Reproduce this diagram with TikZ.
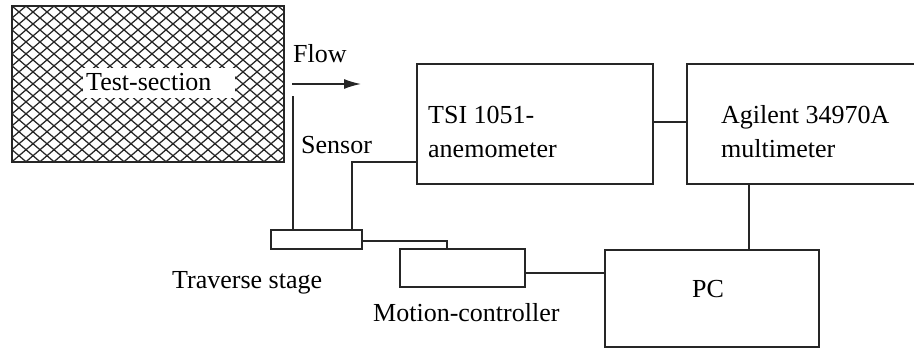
\documentclass[tikz,border=0pt]{standalone}
\usepackage{fontspec}
\setmainfont{Liberation Serif}
\usetikzlibrary{arrows.meta}
\newcommand{\fsz}{\fontsize{26}{30}\selectfont}
\begin{document}
\begin{tikzpicture}[x=1pt,y=-1pt,
  boxstyle/.style={draw=black!85,line width=1.8pt,rectangle,inner sep=0pt},
  wire/.style={draw=black!85,line width=1.4pt},
  txt/.style={anchor=base west,inner sep=0pt,font=\fsz},
  hatchline/.style={draw=black!85,line width=1.25pt}]
\useasboundingbox (0,0) rectangle (914,348);
\clip (0,0) rectangle (914,348);
% test-section
\begin{scope}
  \clip (12,6) rectangle (284,162);
  \foreach \k in {-14,...,34} {
    \draw[hatchline] (12+14*\k,6) -- ++(187,160);
    \draw[hatchline] (12+14*\k,6) -- ++(-187,160);
  }
\end{scope}
\node[boxstyle,minimum width=272pt,minimum height=156pt] (test) at (148,84) {};
\node[fill=white,inner sep=0pt,minimum width=152pt,minimum height=30pt] (testbg) at (159,83) {};
\node[txt] (testlbl) at (86,90) {Test-section};
% flow
\node[txt] (flowlbl) at (293,62) {Flow};
\coordinate (flowA) at (292,84);
\coordinate (flowB) at (361,84);
\draw[wire,-{Latex[length=17pt,width=10pt]}] (flowA) -- (flowB);
% boxes
\node[boxstyle,minimum width=236pt,minimum height=120pt] (anem) at (535,124) {};
\node[boxstyle,minimum width=260pt,minimum height=120pt] (multi) at (817,124) {};
\node[boxstyle,minimum width=214pt,minimum height=97pt] (pc) at (712,298.5) {};
\node[boxstyle,minimum width=91pt,minimum height=19pt] (stage) at (316.5,239.5) {};
\node[boxstyle,minimum width=125pt,minimum height=38pt] (motion) at (462.5,268) {};
% texts
\node[txt] (tsi1) at (428,123) {TSI 1051-};
\node[txt] (tsi2) at (428,157) {anemometer};
\node[txt] (ag1) at (721,123) {Agilent 34970A};
\node[txt] (ag2) at (721,157) {multimeter};
\node[txt] (pclbl) at (692,297) {PC};
\node[txt] (sensorlbl) at (301,153) {Sensor};
\node[txt] (stagelbl) at (172,288) {Traverse stage};
\node[txt] (motionlbl) at (373,321) {Motion-controller};
% connectors
\coordinate (sensortip) at (293,96);
\draw[wire] (sensortip) -- (sensortip |- stage.north);
\draw[wire] ([xshift=35.5pt]stage.north) |- ([yshift=-38pt]anem.west);
\draw[wire] ([yshift=2pt]anem.east) -- ([yshift=2pt]anem.east -| multi.west);
\draw[wire] (749,184) coordinate (mtap) -- (mtap |- pc.north);
\draw[wire] ([yshift=-5pt]motion.east) -- ([yshift=-5pt]motion.east -| pc.west);
\draw[wire] ([yshift=-1.5pt]stage.east) -| ([xshift=-15.5pt]motion.north);
\end{tikzpicture}
\end{document}
